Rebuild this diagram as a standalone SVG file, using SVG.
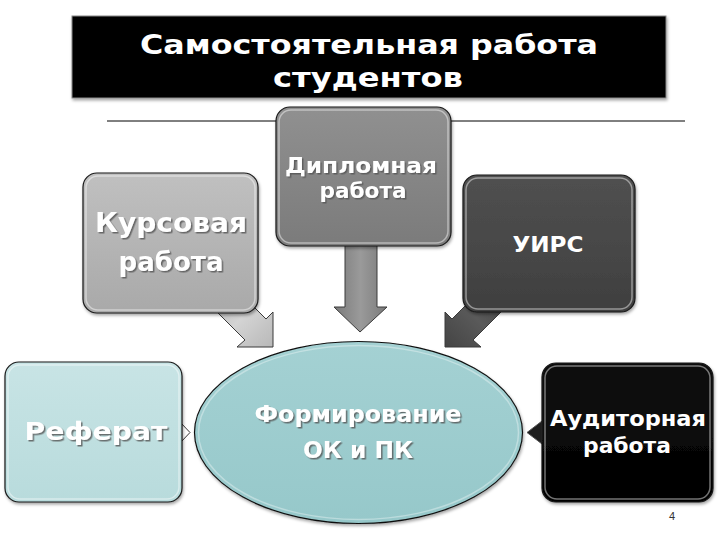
<svg xmlns="http://www.w3.org/2000/svg" width="720" height="540" viewBox="0 0 720 540">
<defs>
<style>
.t{font-family:"DejaVu Sans","Liberation Sans",sans-serif;font-weight:bold;fill:#fff;text-anchor:middle}
.box{stroke:#1a1a1a;stroke-width:1.2}
.hl{fill:none;stroke:#fff;stroke-opacity:0.45;stroke-width:1.5}
.arr{stroke:#3a3a3a;stroke-width:1}
</style>
<filter id="ts" x="-10%" y="-20%" width="120%" height="150%">
<feDropShadow dx="1.5" dy="1.5" stdDeviation="0.6" flood-color="#555" flood-opacity="0.8"/>
</filter>
<filter id="bs" x="-10%" y="-10%" width="120%" height="125%">
<feDropShadow dx="1" dy="2" stdDeviation="1.5" flood-color="#000" flood-opacity="0.35"/>
</filter>
<linearGradient id="gK" x1="0" y1="0" x2="0" y2="1"><stop offset="0" stop-color="#c0c0c0"/><stop offset="1" stop-color="#a9a9a9"/></linearGradient>
<linearGradient id="gD" x1="0" y1="0" x2="0" y2="1"><stop offset="0" stop-color="#909090"/><stop offset="1" stop-color="#7b7b7b"/></linearGradient>
<linearGradient id="gU" x1="0" y1="0" x2="0" y2="1"><stop offset="0" stop-color="#505050"/><stop offset="1" stop-color="#3f3f3f"/></linearGradient>
<linearGradient id="gR" x1="0" y1="0" x2="0" y2="1"><stop offset="0" stop-color="#c8e4e5"/><stop offset="1" stop-color="#b8dbdc"/></linearGradient>
<linearGradient id="gE" x1="0" y1="0" x2="0" y2="1"><stop offset="0" stop-color="#a4d1d3"/><stop offset="1" stop-color="#96c8ca"/></linearGradient>
<linearGradient id="gA" x1="0" y1="0" x2="0" y2="1"><stop offset="0" stop-color="#111"/><stop offset="1" stop-color="#000"/></linearGradient>
<linearGradient id="gAK" x1="0" y1="0" x2="1" y2="1"><stop offset="0" stop-color="#b0b0b0"/><stop offset="0.5" stop-color="#d4d4d4"/><stop offset="1" stop-color="#b8b8b8"/></linearGradient>
<linearGradient id="gAD" x1="0" y1="0" x2="1" y2="0"><stop offset="0" stop-color="#7a7a7a"/><stop offset="0.5" stop-color="#9a9a9a"/><stop offset="1" stop-color="#7a7a7a"/></linearGradient>
<linearGradient id="gAU" x1="1" y1="0" x2="0" y2="1"><stop offset="0" stop-color="#3e3e3e"/><stop offset="0.5" stop-color="#5a5a5a"/><stop offset="1" stop-color="#444"/></linearGradient>
</defs>
<rect width="720" height="540" fill="#fff"/>

<g id="title">
<rect x="72" y="16" width="594" height="82" fill="#000" stroke="#888" stroke-width="1" filter="url(#bs)"/>
<text class="t" x="369" y="54" font-size="27" textLength="458" lengthAdjust="spacingAndGlyphs">Самостоятельная работа</text>
<text class="t" x="368" y="87" font-size="27" textLength="190" lengthAdjust="spacingAndGlyphs">студентов</text>
</g>

<line x1="107" y1="121" x2="685" y2="121" stroke="#000" stroke-width="1"/>

<g id="connectors">
<polygon class="arr" fill="url(#gAK)" points="212.5,307.5 245,340 237,347 273,347 273,312 266,319 233.5,286.5"/>
<polygon class="arr" fill="url(#gAD)" points="345,240 345,307 334,307 360,332 387,307 377,307 377,240"/>
<polygon class="arr" fill="url(#gAU)" points="505.5,307.5 473,340 481,347 445,347 445,312 452,319 484.5,286.5"/>
<polygon fill="#fff" stroke="#333" stroke-width="1" points="180,422 190,432.5 180,443"/>
<polygon fill="#1e1e1e" stroke="#555" stroke-width="1" points="542,421 527,432.5 542,444"/>
</g>

<g id="kursovaya">
<rect class="box" x="83" y="173" width="175" height="140" rx="14" fill="url(#gK)" filter="url(#bs)"/>
<rect class="hl" x="86" y="176" width="169" height="134" rx="12"/>
<text class="t" x="171" y="232" font-size="27" textLength="152" lengthAdjust="spacingAndGlyphs" filter="url(#ts)">Курсовая</text>
<text class="t" x="171" y="271" font-size="27" textLength="105" lengthAdjust="spacingAndGlyphs" filter="url(#ts)">работа</text>
</g>

<g id="diplomnaya">
<rect class="box" x="276" y="107" width="175" height="139" rx="14" fill="url(#gD)" filter="url(#bs)"/>
<rect class="hl" x="279" y="110" width="169" height="133" rx="12"/>
<text class="t" x="361" y="173" font-size="22" textLength="152" lengthAdjust="spacingAndGlyphs" filter="url(#ts)">Дипломная</text>
<text class="t" x="363" y="198" font-size="22" textLength="87" lengthAdjust="spacingAndGlyphs" filter="url(#ts)">работа</text>
</g>

<g id="uirs">
<rect class="box" x="463" y="175" width="172" height="137" rx="14" fill="url(#gU)" filter="url(#bs)"/>
<rect class="hl" x="466" y="178" width="166" height="131" rx="12"/>
<text class="t" x="548" y="252" font-size="22" textLength="71" lengthAdjust="spacingAndGlyphs">УИРС</text>
</g>

<g id="referat">
<rect class="box" x="5" y="362" width="177" height="140" rx="14" fill="url(#gR)" filter="url(#bs)"/>
<rect class="hl" x="8" y="365" width="171" height="134" rx="12"/>
<text class="t" x="96" y="440" font-size="25" textLength="143" lengthAdjust="spacingAndGlyphs" filter="url(#ts)">Реферат</text>
</g>

<g id="center">
<ellipse cx="358.5" cy="432.5" rx="164" ry="91" fill="url(#gE)" stroke="#111" stroke-width="1.2" filter="url(#bs)"/>
<ellipse cx="358.5" cy="432.5" rx="160" ry="87" fill="none" stroke="#fff" stroke-opacity="0.35" stroke-width="1.5"/>
<text class="t" x="358" y="422" font-size="23" textLength="207" lengthAdjust="spacingAndGlyphs" filter="url(#ts)">Формирование</text>
<text class="t" x="358" y="458" font-size="23" textLength="110" lengthAdjust="spacingAndGlyphs" filter="url(#ts)">ОК и ПК</text>
</g>

<g id="auditornaya">
<rect class="box" x="542" y="363" width="171" height="139" rx="14" fill="url(#gA)" stroke="#555" filter="url(#bs)"/>
<rect class="hl" x="545" y="366" width="165" height="133" rx="12" stroke-opacity="0.25"/>
<text class="t" x="628" y="426" font-size="21" textLength="156" lengthAdjust="spacingAndGlyphs">Аудиторная</text>
<text class="t" x="627" y="453" font-size="21" textLength="88" lengthAdjust="spacingAndGlyphs">работа</text>
</g>

<text x="672" y="520" font-family="Liberation Sans, sans-serif" font-size="11" fill="#333" text-anchor="middle">4</text>
</svg>
